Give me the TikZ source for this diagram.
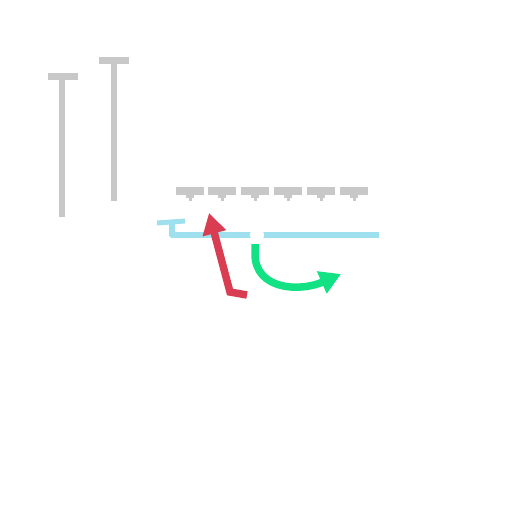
\documentclass[tikz,border=0pt]{standalone}
\usetikzlibrary{arrows.meta}
\definecolor{poste}{HTML}{C8C8C8}
\definecolor{cable}{HTML}{9EE0EE}
\definecolor{rojo}{HTML}{D93D52}
\definecolor{verde}{HTML}{12E283}
\begin{document}
\begin{tikzpicture}[x=1pt, y=-1pt,
        barra/.style  = {poste, line width=7pt},
        tallo/.style  = {poste, line width=6pt},
        linea/.style  = {cable, line width=6pt},
        flecha/.style = {line width=7.5pt, -{Triangle[length=21pt, width=23pt]}},
      ]
        \useasboundingbox (0,0) rectangle (512,512);
        % Postes altos
        \draw[tallo] (62,76) -- (62,217);
        \draw[barra] (48,76) -- (78,76);
        \draw[tallo] (114,60) -- (114,201);
        \draw[barra] (99,60) -- (129,60);
        % Postes cortos
        \foreach \x in {190, 222, 255, 288, 321, 354} {
          \draw[tallo, line width=8pt] (\x,192) -- (\x,198);
          \draw[tallo, line width=3pt] (\x,198) -- (\x,201);
          \draw[barra, line width=8pt] (\x-14,191) -- (\x+14,191);
        }
        % Linea (cian)
        \draw[linea, line width=5pt] (157,223) -- (185,221);
        \draw[linea, line join=round] (172,222) -- (172,235) -- (379,235);
        \coordinate (nodo) at (257,235);
        \node[circle, fill=white, minimum size=14pt, inner sep=0pt] (punto) at (nodo) {};
        % Flecha roja
        \coordinate (r0) at (247,295);
        \coordinate (r1) at (230,292);
        \coordinate (r2) at (209,213);
        \draw[flecha, rojo] (r0) -- (r1) -- (r2);
        % Flecha verde
        \coordinate (v0) at (255,244);
        \coordinate (v1) at (341,274);
        \draw[flecha, verde] (v0) -- (255,255) .. controls (256,290) and (300,292) .. (v1);
      \end{tikzpicture}
\end{document}
